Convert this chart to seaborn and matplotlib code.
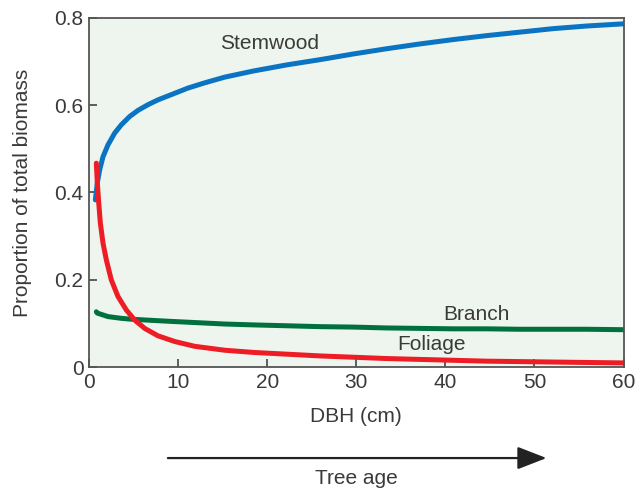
import numpy as np
import pandas as pd
import matplotlib
matplotlib.use("Agg")
import matplotlib.pyplot as plt
from matplotlib.patches import FancyArrowPatch
import seaborn as sns

# values
stem_dbh = [0.71, 0.93, 1.20, 1.57, 2.13, 2.88, 3.63, 4.57, 5.50, 6.62, 7.74, 9.24, 11.11, 12.99,
            15.23, 18.44, 22.19, 25.93, 29.66, 33.41, 37.15, 40.89, 44.64, 48.37, 52.11, 55.86, 60.0]
stem_prop = [0.383, 0.422, 0.452, 0.482, 0.509, 0.536, 0.555, 0.574, 0.588, 0.601, 0.612, 0.624, 0.639, 0.651,
             0.664, 0.678, 0.692, 0.704, 0.717, 0.729, 0.740, 0.750, 0.759, 0.767, 0.775, 0.781, 0.786]

branch_dbh = [0.82, 0.93, 2.13, 3.63, 4.75, 7.37, 9.24, 12.23, 15.23, 18.44, 22.19, 25.93, 29.66,
              33.41, 37.15, 40.89, 44.64, 48.37, 52.11, 55.86, 60.0]
branch_prop = [0.127, 0.124, 0.116, 0.112, 0.110, 0.107, 0.105, 0.102, 0.099, 0.097, 0.095, 0.093, 0.092,
               0.090, 0.089, 0.088, 0.088, 0.087, 0.087, 0.087, 0.086]

foliage_dbh = [0.82, 0.93, 1.09, 1.27, 1.57, 1.94, 2.50, 3.25, 4.19, 5.13, 6.25, 7.74, 9.62, 11.86,
               15.23, 18.44, 22.19, 25.93, 29.66, 33.41, 37.15, 40.89, 44.64, 48.37, 52.11, 55.86, 60.0]
foliage_prop = [0.467, 0.422, 0.376, 0.330, 0.284, 0.246, 0.200, 0.162, 0.131, 0.108, 0.089, 0.072, 0.059, 0.048,
                0.039, 0.034, 0.030, 0.026, 0.023, 0.020, 0.018, 0.016, 0.014, 0.013, 0.012, 0.011, 0.010]

parts = ["Stemwood", "Branch", "Foliage"]
colors = {"Stemwood": "#0a74c2", "Branch": "#00703f", "Foliage": "#ee1c25"}
label_pos = {"Stemwood": (20.3, 0.740), "Branch": (43.5, 0.120), "Foliage": (38.5, 0.051)}

df = pd.concat([
    pd.DataFrame({"dbh": stem_dbh, "prop": stem_prop, "part": "Stemwood"}),
    pd.DataFrame({"dbh": branch_dbh, "prop": branch_prop, "part": "Branch"}),
    pd.DataFrame({"dbh": foliage_dbh, "prop": foliage_prop, "part": "Foliage"}),
])

sns.set_style("ticks")
plt.rcParams["font.family"] = ["Liberation Sans", "DejaVu Sans"]

txt = "#3a3a3a"
fs = 15
fig = plt.figure(figsize=(6.35, 4.92), dpi=100)
ax = fig.add_axes([0.1402, 0.2535, 0.8417, 0.7105])
ax.set_facecolor("#edf5ee")

sns.lineplot(data=df, x="dbh", y="prop", hue="part", hue_order=parts,
             palette=colors, linewidth=3.6, sort=False, legend=False, ax=ax)

ax.set_xlim(0, 60)
ax.set_ylim(0, 0.8)
ax.set_xticks([0, 10, 20, 30, 40, 50, 60])
ax.set_yticks([0, 0.2, 0.4, 0.6, 0.8])
ax.set_yticklabels(["0", "0.2", "0.4", "0.6", "0.8"])
ax.tick_params(direction="in", length=5.5, width=1.2, color="#444444",
               labelsize=fs, labelcolor=txt, pad=4)
for s in ax.spines.values():
    s.set_color("#555555")
    s.set_linewidth(1.3)

ax.set_xlabel("DBH (cm)", fontsize=fs, color=txt, labelpad=11)
ax.set_ylabel("Proportion of total biomass", fontsize=fs, color=txt, labelpad=16)

for p in parts:
    ax.text(*label_pos[p], p, fontsize=fs, color=txt, ha="center", va="center")

# tree age arrow under the axis
fig.patches.append(FancyArrowPatch(
    (0.26, 0.069), (0.865, 0.069), transform=fig.transFigure,
    arrowstyle="-|>,head_length=0.9,head_width=0.35", color="#222222",
    linewidth=1.6, mutation_scale=20))
fig.text(0.562, 0.028, "Tree age", fontsize=fs, color=txt, ha="center", va="center")

fig.savefig("out.png", dpi=100)
